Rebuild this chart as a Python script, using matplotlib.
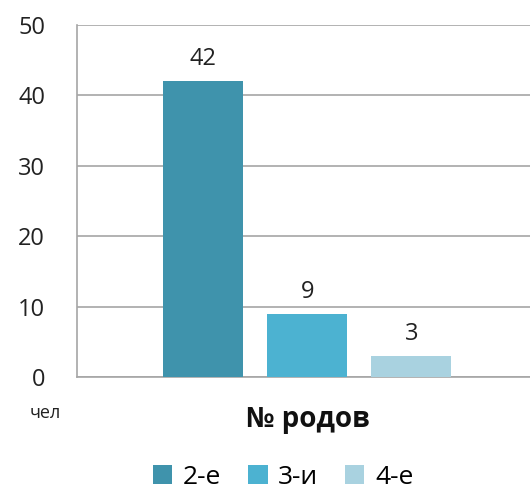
import matplotlib
matplotlib.use('Agg')
import matplotlib.pyplot as plt
from matplotlib.patches import Patch

# Данные
series = ['2-е', '3-и', '4-е']
values = [42, 9, 3]
colors = ['#3F93AC', '#4CB2D1', '#A9D2E0']
yticks = [0, 10, 20, 30, 40, 50]

plt.rcParams['font.family'] = ['Open Sans', 'DejaVu Sans']

fig = plt.figure(figsize=(5.3, 4.92), dpi=100)
ax = fig.add_axes([77 / 530, 1 - 377 / 492, 453 / 530, 352 / 492])

pos = list(range(len(values)))
bars = ax.bar(pos, values, width=0.77, color=colors, zorder=3)
for b, v in zip(bars, values):
    ax.text(b.get_x() + b.get_width() / 2, v + 1.4, str(v),
            ha='center', va='bottom', fontsize=17, color='#222222')

ax.set_xlim(-1.21, 3.14)
ax.set_ylim(0, 50)
ax.set_yticks(yticks)
ax.set_yticklabels([str(t) for t in yticks], fontsize=17, color='#222222')
ax.tick_params(axis='y', length=0, pad=23)
ax.set_xticks([])
ax.grid(axis='y', color='#A6A6A6', linewidth=1.2, zorder=0)
for s in ['top', 'right']:
    ax.spines[s].set_visible(False)
ax.spines['left'].set_color('#A6A6A6')
ax.spines['bottom'].set_color('#A6A6A6')
ax.spines['left'].set_linewidth(1.2)
ax.spines['bottom'].set_linewidth(1.2)

fig.text(30 / 530, 1 - 413 / 492, 'чел', fontsize=13, ha='left', va='center', color='#222222')
fig.text(308 / 530, 1 - 420 / 492, '№ родов', fontsize=20, fontweight='bold',
         ha='center', va='center', color='#111111')

handles = [Patch(facecolor=c, label=s) for c, s in zip(colors, series)]
fig.legend(handles=handles, loc='center', bbox_to_anchor=(283 / 530, 1 - 477 / 492),
           ncol=3, frameon=False, fontsize=19, handlelength=0.75, handleheight=0.75,
           handletextpad=0.4, columnspacing=1.0)

fig.savefig('out.png', dpi=100)
